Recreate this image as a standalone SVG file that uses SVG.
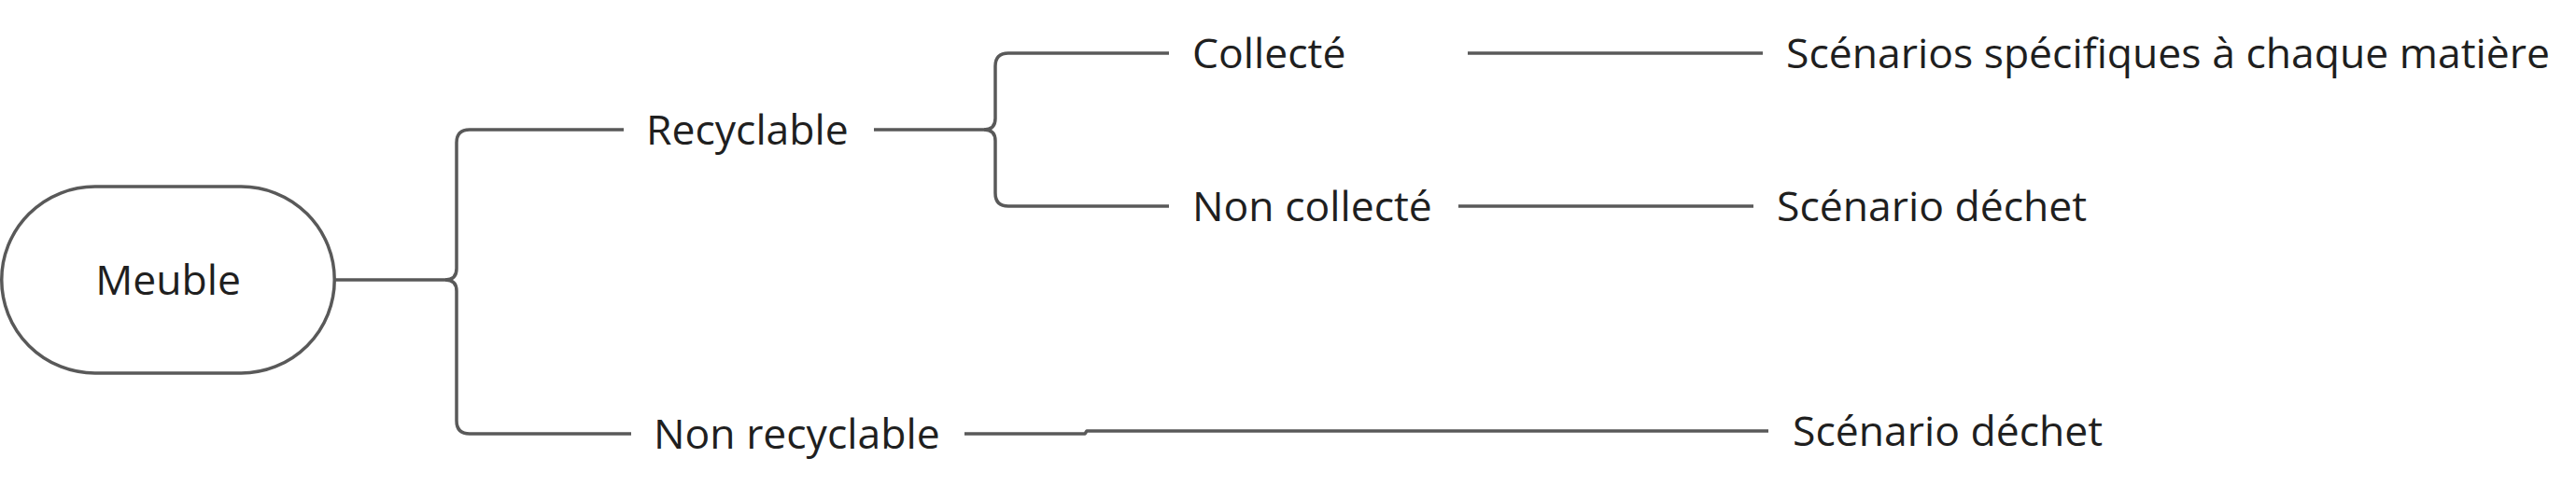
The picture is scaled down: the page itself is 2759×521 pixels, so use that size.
<svg xmlns="http://www.w3.org/2000/svg" width="2759" height="521" viewBox="0 0 2759 521">
<style>
.t{font-family:"Open Sans","Noto Sans","Liberation Sans",sans-serif;font-size:44.5px;fill:#1f1f1f}
.c{fill:none;stroke:#595959;stroke-width:3.5;stroke-linecap:butt;stroke-linejoin:round}
.n{fill:#ffffff;stroke:#595959;stroke-width:3.5}
</style>
<rect width="2759" height="521" fill="#ffffff"/>
<g id="connectors">
<path class="c" d="M358,300 H477 Q489,300 489,288 V153 Q489,139 503,139 H668"/>
<path class="c" d="M477,300 Q489,300 489,312 V451 Q489,465 503,465 H676"/>
<path class="c" d="M936,139 H1054 Q1066,139 1066,127 V71 Q1066,57 1080,57 H1252"/>
<path class="c" d="M1054,139 Q1066,139 1066,151 V207 Q1066,221 1080,221 H1252"/>
<path class="c" d="M1572,57 H1888"/>
<path class="c" d="M1562,221 H1878"/>
<path class="c" d="M1033,465 H1162 L1164,462 H1894"/>
</g>
<g id="node-meuble">
<rect class="n" x="1.75" y="200" width="356.5" height="200" rx="100" ry="100"/>
<text class="t" x="180" y="316" text-anchor="middle">Meuble</text>
</g>
<g id="node-recyclable">
<text class="t" x="692" y="155">Recyclable</text>
</g>
<g id="node-non-recyclable">
<text class="t" x="700" y="481">Non recyclable</text>
</g>
<g id="node-collecte">
<text class="t" x="1277" y="73">Collecté</text>
</g>
<g id="node-non-collecte">
<text class="t" x="1277" y="237">Non collecté</text>
</g>
<g id="node-scenarios-specifiques">
<text class="t" x="1913" y="73">Scénarios spécifiques à chaque matière</text>
</g>
<g id="node-scenario-dechet-1">
<text class="t" x="1903" y="237">Scénario déchet</text>
</g>
<g id="node-scenario-dechet-2">
<text class="t" x="1920" y="478">Scénario déchet</text>
</g>
</svg>
